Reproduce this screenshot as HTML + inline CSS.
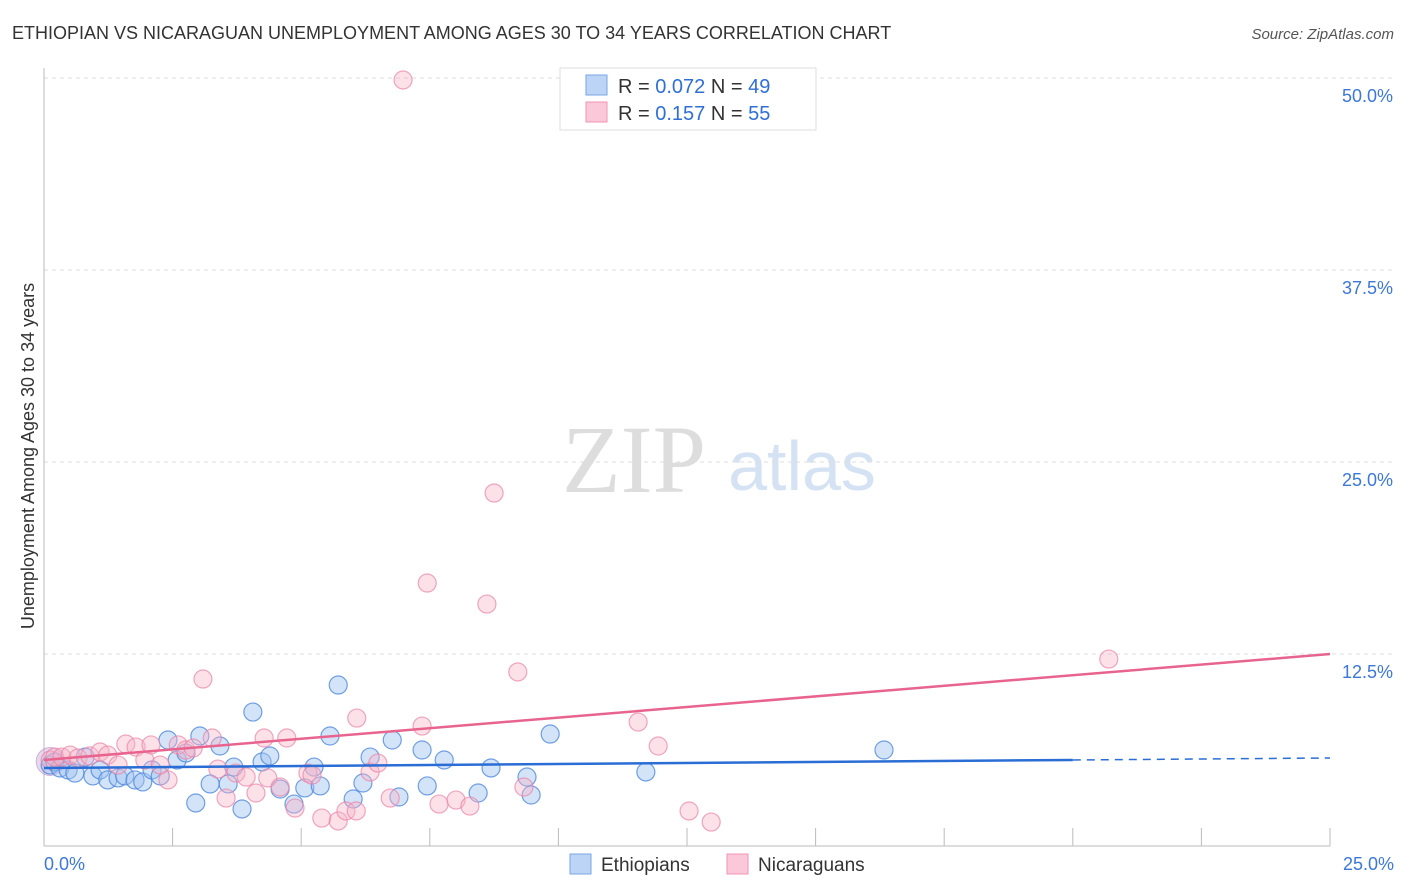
<!DOCTYPE html>
<html><head><meta charset="utf-8">
<style>
body{margin:0;background:#fff;font-family:"Liberation Sans",sans-serif;}
svg{display:block}
</style></head>
<body>
<svg id="chart" width="1406" height="892" xmlns="http://www.w3.org/2000/svg">
<text x="12" y="39" font-size="18" fill="#333">ETHIOPIAN VS NICARAGUAN UNEMPLOYMENT AMONG AGES 30 TO 34 YEARS CORRELATION CHART</text>
<text x="1394" y="39" font-size="15" fill="#555" font-style="italic" text-anchor="end">Source: ZipAtlas.com</text>
<text x="634" y="492" font-size="96" fill="#ddd" font-family="Liberation Serif,serif" text-anchor="middle">ZIP</text>
<text x="802" y="490" font-size="70" fill="#d4e2f4" text-anchor="middle">atlas</text>
<text transform="translate(34,456) rotate(-90)" font-size="18" fill="#333" text-anchor="middle">Unemployment Among Ages 30 to 34 years</text>
<g id="grid"></g><g id="pts"></g><g id="trend"></g>
<g>
<rect x="560" y="68" width="256" height="62" fill="#fff" stroke="#ddd"/>
<rect x="586" y="75" width="21" height="20" fill="#bcd4f6" stroke="#7aa6e6"/>
<rect x="586" y="102" width="21" height="20" fill="#fac8d8" stroke="#f093b4"/>
<text x="618" y="93" font-size="20" fill="#333">R = <tspan fill="#2f6fd6">0.072</tspan>   N = <tspan fill="#2f6fd6">49</tspan></text>
<text x="618" y="120" font-size="20" fill="#333">R =  <tspan fill="#2f6fd6">0.157</tspan>   N = <tspan fill="#2f6fd6">55</tspan></text>
</g>
<g>
<rect x="570" y="854" width="21" height="20" fill="#bcd4f6" stroke="#7aa6e6"/>
<text x="601" y="871" font-size="19" fill="#333">Ethiopians</text>
<rect x="727" y="854" width="21" height="20" fill="#fac8d8" stroke="#f093b4"/>
<text x="758" y="871" font-size="19" fill="#333">Nicaraguans</text>
</g>
</svg>
<script>
const yTicks=[12.5,25,37.5,50];
const yTickLabels=["12.5%","25.0%","37.5%","50.0%"];
const xTicks=[2.5,5,7.5,10,12.5,15,17.5,20,22.5,25];
const ethX=[0.12,0.21,0.31,0.47,0.60,0.80,0.95,1.09,1.24,1.44,1.57,1.77,1.92,2.10,2.26,2.41,2.59,2.76,2.95,3.03,3.23,3.42,3.58,3.69,3.85,4.06,4.24,4.39,4.59,4.86,5.07,5.25,5.37,5.56,5.72,6.01,6.20,6.34,6.77,6.90,7.35,7.45,7.78,8.44,8.69,9.39,9.47,9.84,11.70,16.33];
const ethY=[5.27,5.47,5.08,4.95,4.75,5.79,4.56,4.95,4.30,4.43,4.56,4.30,4.17,4.95,4.56,6.90,5.60,6.05,2.80,7.16,4.04,6.51,4.04,5.14,2.41,8.72,5.47,5.86,3.71,2.73,3.78,5.14,3.91,7.16,10.48,3.06,4.10,5.79,6.90,3.19,6.25,3.91,5.60,3.45,5.08,4.49,3.32,7.29,4.82,6.25];
const nicX=[0.12,0.21,0.35,0.51,0.66,0.89,1.09,1.24,1.44,1.59,1.79,1.96,2.08,2.26,2.41,2.61,2.76,2.90,3.09,3.27,3.38,3.54,3.73,3.93,4.12,4.28,4.35,4.59,4.72,4.88,5.13,5.21,5.40,5.72,5.87,6.08,6.07,6.34,6.49,6.73,6.98,7.35,7.45,7.68,8.01,8.28,8.61,8.75,9.21,9.33,11.55,11.94,12.54,12.97,20.70];
const nicY=[5.60,5.79,5.79,5.92,5.73,5.86,6.12,5.92,5.27,6.64,6.44,5.60,6.58,5.27,4.30,6.58,6.25,6.38,10.87,7.03,5.01,3.12,4.75,4.49,3.45,7.03,4.43,3.84,7.03,2.47,4.75,4.62,1.82,1.63,2.28,8.33,2.28,4.82,5.40,3.12,49.87,7.81,17.12,2.73,2.99,2.60,15.75,22.98,11.33,3.84,8.07,6.51,2.28,1.56,12.17];
const ethTrendX=[0,20,25];
const ethTrendY=[5.08,5.60,5.73];
const nicTrendX=[0,25];
const nicTrendY=[5.60,12.5];
const NS="http://www.w3.org/2000/svg";
const X=v=>44+v/25*1286;
const Y=v=>846-v/12.5*192;
function mk(tag,attrs,parent){const e=document.createElementNS(NS,tag);for(const k in attrs)e.setAttribute(k,attrs[k]);parent.appendChild(e);return e;}
const grid=document.getElementById('grid');
yTicks.forEach((t,i)=>{
  const l=mk('line',{x1:44,x2:1394,y1:Y(t),y2:Y(t),stroke:'#ddd','stroke-dasharray':'4,4'},grid);
  
  
  const tx=mk('text',{x:1393,y:Y(t)+24,'font-size':18,fill:'#3b78d8','text-anchor':'end'},grid);
  tx.textContent=yTickLabels[i];
  
  
});
let ax=mk('line',{x1:44,x2:44,y1:68,y2:846,stroke:'#bbb'},grid);


ax=mk('line',{x1:44,x2:1330,y1:846,y2:846,stroke:'#bbb'},grid);


xTicks.forEach(t=>{
  const l=mk('line',{x1:X(t),x2:X(t),y1:828,y2:846,stroke:'#bbb'},grid);
  
  
});
let xl=mk('text',{x:44,y:870,'font-size':18,fill:'#3b78d8'},grid);xl.textContent='0.0%';


xl=mk('text',{x:1394,y:870,'font-size':18,fill:'#3b78d8','text-anchor':'end'},grid);xl.textContent='25.0%';


const pts=document.getElementById('pts');
let big=mk('circle',{cx:X(0.12),cy:Y(5.5),r:14,fill:'rgba(200,170,220,0.45)',stroke:'rgba(190,140,200,0.6)'},pts);


ethX.forEach((x,i)=>{
  const c=mk('circle',{cx:X(x),cy:Y(ethY[i]),r:9,fill:'rgba(160,195,240,0.45)',stroke:'rgba(70,130,220,0.75)','stroke-width':1.2},pts);
  
  
});
nicX.forEach((x,i)=>{
  const c=mk('circle',{cx:X(x),cy:Y(nicY[i]),r:9,fill:'rgba(248,180,200,0.4)',stroke:'rgba(235,130,165,0.7)','stroke-width':1.2},pts);
  
  
});
const tr=document.getElementById('trend');
let t1=mk('line',{x1:X(ethTrendX[0]),y1:Y(ethTrendY[0]),x2:X(ethTrendX[1]),y2:Y(ethTrendY[1]),stroke:'#2a6dd4','stroke-width':2.5},tr);


let t2=mk('line',{x1:X(ethTrendX[1]),y1:Y(ethTrendY[1]),x2:X(ethTrendX[2]),y2:Y(ethTrendY[2]),stroke:'#2a6dd4','stroke-width':1.5,'stroke-dasharray':'8,6'},tr);


let t3=mk('line',{x1:X(nicTrendX[0]),y1:Y(nicTrendY[0]),x2:X(nicTrendX[1]),y2:Y(nicTrendY[1]),stroke:'#e8648f','stroke-width':2.5},tr);


</script>
</body></html>
